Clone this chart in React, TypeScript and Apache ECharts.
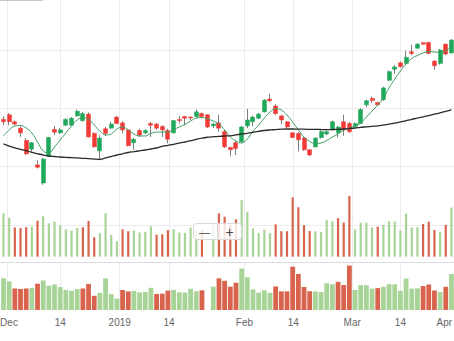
import React, { useEffect, useRef } from 'react';
import * as echarts from 'echarts';

// Daily OHLC (price units), one entry per trading day (index 0 = first visible day)
const opens = [
  168.1, 168.9, 167.7, 166.6, 164.5, 163.0, 160.3, 157.2, 161.8, 166.4,
  165.8, 167.1, 167.1, 168.7, 167.9, 169.0, 165.7, 162.7, 166.5, 166.6,
  168.5, 167.5, 166.3, 164.1, 166.2, 165.8, 167.4, 167.3, 166.9, 166.2,
  165.8, 168.1, 168.6, 168.5, 168.6, 169.1, 168.9, 167.0, 167.5, 166.0,
  163.3, 164.1, 164.3, 167.0, 167.7, 168.3, 169.4, 171.6, 170.4, 168.7,
  167.7, 165.8, 165.7, 164.9, 162.9, 163.4, 165.0, 165.6, 166.4, 165.8,
  167.7, 167.4, 166.9, 167.4, 170.6, 171.7, 171.0, 171.5, 174.8, 176.7,
  177.8, 177.7, 179.7, 180.3, 181.25, 181.3, 178.1, 177.7, 181.0, 179.5,
];
const closes = [
  167.7, 167.7, 167.3, 165.8, 162.2, 164.1, 159.9, 161.3, 165.0, 165.9,
  166.3, 168.1, 168.3, 169.5, 169.1, 165.1, 163.4, 164.9, 165.7, 167.3,
  167.4, 166.3, 163.6, 164.7, 165.4, 166.2, 167.1, 166.6, 166.3, 164.7,
  167.9, 167.9, 168.3, 168.35, 169.4, 168.6, 166.8, 167.3, 166.6, 163.4,
  162.9, 163.1, 166.8, 168.0, 168.5, 169.0, 171.4, 171.3, 169.1, 168.0,
  166.8, 165.0, 164.6, 162.9, 162.0, 164.9, 166.0, 166.0, 167.7, 166.8,
  166.3, 166.0, 167.4, 169.8, 171.3, 171.35, 170.6, 173.5, 176.3, 177.1,
  177.15, 178.75, 179.4, 181.0, 181.0, 179.4, 177.3, 180.0, 179.3, 181.7,
];
const lows = [
  167.1, 167.1, 167.1, 165.1, 162.0, 162.5, 159.7, 156.9, 161.7, 165.4,
  165.6, 167.0, 167.0, 168.6, 167.7, 165.0, 163.3, 161.1, 165.3, 166.5,
  167.3, 165.7, 163.5, 162.9, 165.1, 165.6, 165.1, 166.3, 165.1, 164.0,
  165.7, 167.4, 167.1, 168.0, 168.3, 168.3, 166.6, 166.6, 166.0, 163.2,
  161.8, 162.0, 164.1, 166.6, 166.9, 168.2, 169.3, 171.1, 168.9, 167.3,
  166.6, 164.9, 162.6, 162.7, 161.8, 163.3, 164.8, 165.4, 166.2, 165.0,
  165.3, 165.8, 166.7, 167.3, 170.2, 170.9, 170.4, 171.3, 174.7, 175.9,
  177.0, 177.4, 179.1, 180.2, 180.9, 179.3, 176.6, 177.5, 179.1, 179.4,
];
const highs = [
  168.6, 169.2, 167.9, 166.9, 164.9, 164.2, 161.1, 161.5, 165.1, 167.0,
  166.6, 168.3, 168.5, 169.8, 169.4, 169.3, 165.9, 165.4, 166.8, 167.7,
  168.7, 167.8, 166.5, 164.9, 166.5, 166.4, 167.7, 167.5, 167.1, 166.5,
  168.0, 168.7, 168.7, 168.6, 169.8, 169.3, 169.0, 167.5, 168.9, 166.3,
  163.4, 164.4, 167.0, 169.9, 168.7, 169.2, 171.6, 172.5, 170.7, 168.9,
  167.8, 165.9, 165.9, 165.1, 163.0, 165.0, 166.2, 166.2, 167.9, 167.0,
  168.9, 167.7, 167.6, 170.0, 171.5, 172.0, 171.1, 173.7, 176.5, 177.4,
  178.0, 179.9, 180.9, 181.2, 181.4, 181.4, 178.2, 180.2, 181.1, 181.9,
];
// short (green) and long (black) moving averages
const maShort = [
  165.26, 166.29, 166.97, 167.06, 166.63, 165.77, 164.23, 162.69, 162.34, 163.37,
  164.57, 165.77, 166.97, 168.0, 168.43, 168.17, 167.14, 166.11, 165.43, 165.6,
  166.46, 166.8, 166.29, 165.6, 165.26, 165.26, 165.69, 165.94, 165.94, 165.94,
  166.37, 166.8, 167.23, 167.83, 168.34, 168.43, 168.17, 167.83, 167.31, 166.29,
  165.09, 164.4, 164.06, 164.74, 166.11, 167.14, 168.34, 169.37, 169.97, 169.71,
  168.86, 167.66, 166.29, 165.09, 164.31, 163.97, 164.06, 164.49, 165.09, 165.6,
  166.29, 166.63, 166.97, 167.49, 168.51, 169.54, 170.57, 171.77, 173.49, 175.03,
  176.4, 177.6, 178.54, 179.06, 179.49, 179.74, 179.66, 179.57, 179.83, 180.86,
];
const maLong = [
  163.89, 163.54, 163.23, 162.98, 162.74, 162.46, 162.22, 162.0, 161.83, 161.74,
  161.66, 161.6, 161.55, 161.49, 161.43, 161.38, 161.31, 161.26, 161.49, 161.74,
  162.0, 162.2, 162.43, 162.57, 162.72, 162.86, 163.03, 163.2, 163.49, 163.66,
  163.83, 164.02, 164.23, 164.45, 164.69, 164.91, 165.05, 165.14, 165.21, 165.26,
  165.29, 165.46, 165.6, 165.72, 165.89, 166.06, 166.2, 166.29, 166.35, 166.42,
  166.46, 166.46, 166.44, 166.42, 166.4, 166.39, 166.37, 166.35, 166.37, 166.4,
  166.46, 166.54, 166.63, 166.75, 166.83, 166.92, 167.0, 167.14, 167.31, 167.45,
  167.66, 167.88, 168.1, 168.34, 168.55, 168.77, 168.99, 169.23, 169.49, 169.75,
];
// volume (millions); null = no value
const volumes = [
  43.4, 39, 29.3, 28.6, 29.5, 30.3, 36, 40.4, 33.4, 35,
  31.4, 27.4, 26.3, 28.6, 29.5, 35.7, 19.5, 23.5, 43.4, 21.8,
  15.5, 27.4, 25.5, 26.2, 24.2, 24.8, 30.4, 22, 22.4, 26.6,
  27.6, 24.2, 23.8, 29.1, 25.6, 27, null, 32, 43.4, 40,
  32, 37.4, 56.8, 44.9, 28.3, 23.8, 27, 23.6, 32.3, 25.5,
  25.5, 59.3, 49.4, 31.5, 25.7, 25.5, 24.6, 36.6, 35.3, 38.6,
  34.2, 60.8, 27.4, 34, 34, 29.3, 30, 31.8, 35.4, 35.2,
  26.3, 43, 29.3, 29.6, 32.8, 35, 26.7, 24.5, 31.8, 49.2,
];
// 1 = up day (green volume), 0 = down day (red volume)
const volumeUp = [
  1, 1, 0, 0, 0, 1, 0, 1, 1, 1,
  1, 1, 1, 1, 0, 0, 0, 1, 1, 1,
  1, 0, 0, 1, 1, 1, 1, 0, 0, 0,
  1, 1, 1, 1, 1, 0, 0, 1, 0, 0,
  0, 0, 1, 1, 1, 1, 1, 1, 0, 0,
  0, 0, 0, 0, 0, 1, 1, 1, 1, 0,
  0, 0, 1, 1, 1, 1, 0, 1, 1, 1,
  1, 1, 1, 1, 0, 0, 0, 1, 0, 1,
];
// date ticks (grid lines) and their labels, on the trading-day index scale
const tickPositions = [0.6, 10, 20.5, 29.2, 42.5, 51.1, 61.5, 70, 79.9];
const labelPositions = [0.97, 10, 20.5, 29.2, 42.5, 51.1, 61.5, 70, 77.75];
const tickLabels = ['Dec', '14', '2019', '14', 'Feb', '14', 'Mar', '14', 'Apr'];

const X_MIN = -0.617;
const X_MAX = 80.51;
const UP = '#1ea85a';
const DOWN = '#f23a36';
const WICK = '#7d7d7d';
const VOL_UP = '#a8d597';
const VOL_DOWN = '#d9644d';
const GRID_LINE = '#ececec';
const FONT = '"Liberation Sans", Arial, Helvetica, sans-serif';

export default function App() {
  const ref = useRef<HTMLDivElement>(null);
  useEffect(() => {
    const chart = echarts.init(ref.current!, null, { renderer: 'svg' });
    const idx = opens.map((_, i) => i);
    const wickData = idx.map((i) => [i, opens[i], closes[i], lows[i], highs[i]]);
    const bodyData = idx.map((i) => [
      i, opens[i], closes[i], Math.min(opens[i], closes[i]), Math.max(opens[i], closes[i]),
    ]);
    const volData = idx
      .filter((i) => volumes[i] != null)
      .map((i) => ({ value: [i, volumes[i]], itemStyle: { color: volumeUp[i] ? VOL_UP : VOL_DOWN } }));
    const labelFor = (v: number) => {
      let best = 0;
      labelPositions.forEach((p, k) => {
        if (Math.abs(p - v) < Math.abs(labelPositions[best] - v)) best = k;
      });
      return tickLabels[best];
    };
    const xAxisFor = (gridIndex: number, showLabels: boolean) => ({
      type: 'value',
      gridIndex,
      min: X_MIN,
      max: X_MAX,
      axisLine: { show: false },
      axisTick: { show: false, customValues: tickPositions },
      axisLabel: showLabels
        ? {
            show: true,
            customValues: labelPositions,
            formatter: (v: number) => labelFor(v),
            color: '#666',
            fontSize: 10,
            fontFamily: FONT,
            margin: 7,
          }
        : { show: false },
      splitLine: { show: true, lineStyle: { color: GRID_LINE, width: 1 } },
    });
    const gridBase = { left: 0, right: -6, outerBoundsMode: 'none', containLabel: false };
    chart.setOption({
      animation: false,
      backgroundColor: '#ffffff',
      grid: [
        { ...gridBase, top: -8.33, height: 233.33 },
        { ...gridBase, top: 225, height: 31.7 },
        { ...gridBase, top: 262, height: 48 },
      ],
      xAxis: [
        xAxisFor(0, false),
        xAxisFor(1, false),
        xAxisFor(2, true),
        {
          type: 'value',
          gridIndex: 2,
          position: 'top',
          min: X_MIN,
          max: X_MAX,
          axisLine: { show: true, lineStyle: { color: '#dcdcdc', width: 1 } },
          axisTick: { show: false },
          axisLabel: { show: false },
          splitLine: { show: false },
        },
      ],
      yAxis: [
        {
          type: 'value',
          gridIndex: 0,
          min: 150,
          max: 190,
          interval: 10,
          axisLine: { show: false },
          axisTick: { show: false },
          axisLabel: { show: false },
          splitLine: { show: true, lineStyle: { color: GRID_LINE, width: 1 } },
        },
        {
          type: 'value',
          gridIndex: 1,
          min: 0,
          max: 31.7,
          axisLine: { show: false },
          axisTick: { show: false },
          axisLabel: { show: false },
          splitLine: { show: false },
        },
        {
          type: 'value',
          gridIndex: 2,
          min: 0,
          max: 65.75,
          axisLine: { show: false },
          axisTick: { show: false },
          axisLabel: { show: false },
          splitLine: { show: false },
        },
      ],
      series: [
        {
          type: 'bar',
          xAxisIndex: 1,
          yAxisIndex: 1,
          data: volData,
          barWidth: 2.2,
          clip: false,
          z: 2,
        },
        {
          type: 'bar',
          xAxisIndex: 2,
          yAxisIndex: 2,
          data: volData,
          barWidth: 4.8,
          z: 2,
        },
        {
          type: 'candlestick',
          xAxisIndex: 0,
          yAxisIndex: 0,
          data: wickData,
          barWidth: 1,
          itemStyle: { color: WICK, color0: WICK, borderColor: WICK, borderColor0: WICK, borderWidth: 1 },
          z: 3,
        },
        {
          type: 'candlestick',
          xAxisIndex: 0,
          yAxisIndex: 0,
          data: bodyData,
          barWidth: 4.5,
          itemStyle: { color: UP, color0: DOWN, borderColor: UP, borderColor0: DOWN, borderWidth: 0.5 },
          z: 4,
        },
        {
          type: 'line',
          xAxisIndex: 0,
          yAxisIndex: 0,
          data: idx.map((i) => [i, maShort[i]]),
          smooth: 0.4,
          showSymbol: false,
          lineStyle: { color: '#3f9f63', width: 1 },
          z: 5,
        },
        {
          type: 'line',
          xAxisIndex: 0,
          yAxisIndex: 0,
          data: idx.map((i) => [i, maLong[i]]),
          smooth: 0.4,
          showSymbol: false,
          lineStyle: { color: '#2a2a2a', width: 1.3 },
          z: 5,
        },
      ],
      graphic: [
        {
          type: 'line',
          shape: { x1: 0, y1: 0.5, x2: 43, y2: 0.5 },
          style: { stroke: '#c9c9c9', lineWidth: 1 },
          z: 50,
        },
        {
          type: 'rect',
          shape: { x: 193.5, y: 223.5, width: 48, height: 16, r: 3 },
          style: { fill: 'rgba(255,255,255,0.82)', stroke: '#d8d8d8', lineWidth: 1 },
          z: 50,
        },
        {
          type: 'line',
          shape: { x1: 217.5, y1: 224, x2: 217.5, y2: 239 },
          style: { stroke: '#d8d8d8', lineWidth: 1 },
          z: 51,
        },
        {
          type: 'text',
          x: 204.5,
          y: 231.5,
          style: { text: '—', fill: '#444', fontSize: 11, fontFamily: FONT, align: 'center', verticalAlign: 'middle' },
          z: 52,
        },
        {
          type: 'text',
          x: 229.5,
          y: 231.5,
          style: { text: '+', fill: '#444', fontSize: 14, fontFamily: FONT, align: 'center', verticalAlign: 'middle' },
          z: 52,
        },
      ],
    });
    return () => chart.dispose();
  }, []);
  return <div ref={ref} style={{ position: 'fixed', left: 0, top: 0, width: 454, height: 341 }} />;
}
